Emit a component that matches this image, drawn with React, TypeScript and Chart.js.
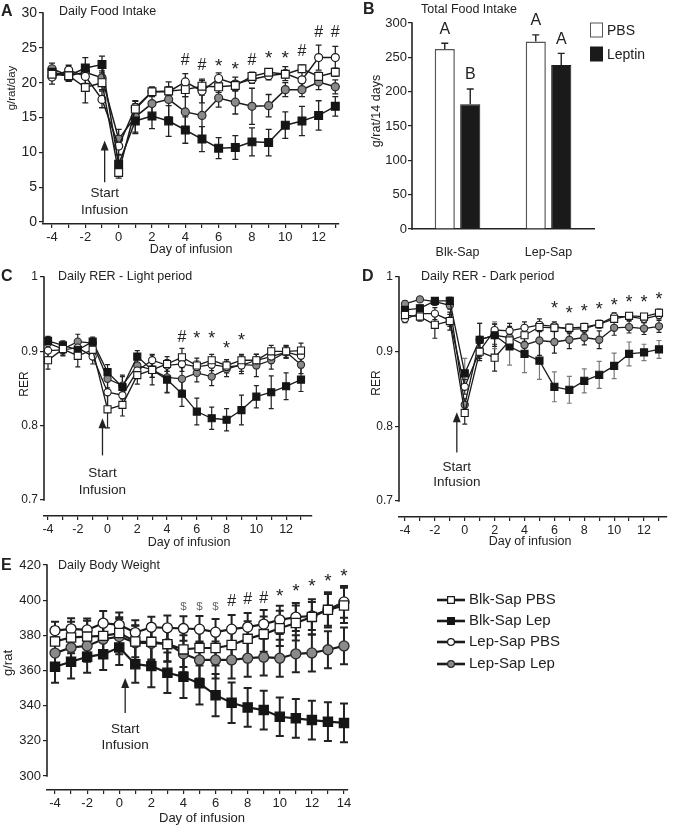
import React, { useEffect, useRef } from 'react';
import { Chart, registerables } from 'chart.js';

Chart.register(...registerables);

const FONT = '"Liberation Sans", Arial, Helvetica, sans-serif';
const INK = '#222222';

const SERIES = ['Blk-Sap PBS', 'Blk-Sap Lep', 'Lep-Sap PBS', 'Lep-Sap Lep'];

// ---------- Panel A: Daily Food Intake (g/rat/day) ----------
const A_DAYS = [-4, -3, -2, -1, 0, 1, 2, 3, 4, 5, 6, 7, 8, 9, 10, 11, 12, 13];
const A_BLK_PBS = [21.2, 21.0, 19.3, 20.0, 7.1, 16.2, 18.7, 18.8, 19.0, 19.5, 19.4, 19.6, 20.9, 21.5, 21.2, 22.0, 20.9, 21.5];
const A_BLK_LEP = [21.5, 21.0, 22.1, 22.6, 8.3, 14.5, 15.2, 14.5, 13.2, 11.9, 10.6, 10.7, 11.5, 11.4, 13.9, 14.5, 15.3, 16.6];
const A_LEP_PBS = [20.8, 21.8, 20.9, 17.6, 10.9, 16.4, 18.7, 18.7, 20.1, 18.8, 20.6, 19.8, 20.5, 21.0, 21.3, 20.4, 23.6, 23.6];
const A_LEP_LEP = [22.0, 21.0, 21.5, 20.7, 11.9, 15.1, 17.0, 17.6, 15.8, 15.3, 17.8, 17.2, 16.6, 16.7, 19.0, 19.0, 20.1, 19.4];
const A_ERR_BLK_PBS = [0.8, 0.8, 2.2, 1.0, 0.8, 0.8, 0.6, 0.6, 1.0, 0.8, 0.8, 0.6, 0.6, 0.5, 0.5, 0.5, 0.6, 0.6];
const A_ERR_BLK_LEP = [0.8, 0.8, 1.5, 1.2, 1.3, 1.8, 1.8, 2.2, 1.9, 1.8, 1.5, 1.7, 2.0, 1.9, 1.9, 2.1, 2.1, 1.4];
const A_ERR_LEP_PBS = [1.0, 0.7, 1.0, 1.2, 1.2, 1.0, 0.7, 0.7, 1.2, 1.7, 0.8, 1.0, 0.6, 0.6, 1.0, 1.5, 1.8, 1.6];
const A_ERR_LEP_LEP = [0.8, 0.7, 1.0, 1.0, 1.4, 2.2, 2.2, 2.5, 2.2, 2.9, 1.3, 1.7, 2.6, 1.6, 1.0, 1.0, 1.1, 1.0];
const A_Y_TICKS = [0, 5, 10, 15, 20, 25, 30];
const A_X_TICKS = [-4, -3, -2, -1, 0, 1, 2, 3, 4, 5, 6, 7, 8, 9, 10, 11, 12, 13];
const A_SIG_DAYS = [4, 5, 6, 7, 8, 9, 10, 11, 12, 13];
const A_SIG_MARKS = ['#', '#', '*', '*', '#', '*', '*', '#', '#', '#'];
const A_SIG_LEVELS = [23.1, 22.4, 22.9, 22.4, 23.1, 24.1, 24.1, 24.5, 27.2, 27.2];

// ---------- Panel B: Total Food Intake (g/rat/14 days) ----------
const B_GROUPS = ['Blk-Sap', 'Lep-Sap'];
const B_PBS = [262, 273];
const B_LEPTIN = [181.5, 238.8];
const B_PBS_ERR = [8.5, 9.7];
const B_LEPTIN_ERR = [22.4, 17];
const B_PBS_LETTERS = ['A', 'A'];
const B_LEPTIN_LETTERS = ['B', 'A'];

// ---------- Panel C: Daily RER - Light period ----------
const C_DAYS = [-4, -3, -2, -1, 0, 1, 2, 3, 4, 5, 6, 7, 8, 9, 10, 11, 12, 13];
const C_BLK_PBS = [0.888, 0.903, 0.894, 0.902, 0.822, 0.828, 0.868, 0.875, 0.883, 0.892, 0.881, 0.888, 0.881, 0.888, 0.888, 0.900, 0.900, 0.901];
const C_BLK_LEP = [0.914, 0.908, 0.902, 0.913, 0.872, 0.852, 0.893, 0.875, 0.862, 0.843, 0.819, 0.810, 0.808, 0.821, 0.839, 0.845, 0.853, 0.862];
const C_LEP_PBS = [0.901, 0.902, 0.905, 0.893, 0.845, 0.841, 0.874, 0.888, 0.881, 0.883, 0.879, 0.882, 0.879, 0.881, 0.888, 0.893, 0.899, 0.894];
const C_LEP_LEP = [0.911, 0.903, 0.913, 0.911, 0.863, 0.854, 0.881, 0.875, 0.865, 0.863, 0.871, 0.866, 0.876, 0.882, 0.881, 0.888, 0.899, 0.882];
const C_ERR_BLK_PBS = [0.012, 0.008, 0.015, 0.010, 0.025, 0.015, 0.012, 0.010, 0.010, 0.012, 0.010, 0.008, 0.008, 0.008, 0.008, 0.008, 0.008, 0.010];
const C_ERR_BLK_LEP = [0.006, 0.006, 0.008, 0.006, 0.010, 0.016, 0.008, 0.010, 0.018, 0.017, 0.018, 0.015, 0.015, 0.020, 0.015, 0.022, 0.018, 0.016];
const C_ERR_LEP_PBS = [0.008, 0.008, 0.008, 0.010, 0.020, 0.015, 0.010, 0.008, 0.008, 0.010, 0.008, 0.008, 0.008, 0.008, 0.008, 0.008, 0.008, 0.008];
const C_ERR_LEP_LEP = [0.006, 0.006, 0.010, 0.006, 0.012, 0.012, 0.012, 0.020, 0.020, 0.015, 0.012, 0.012, 0.010, 0.012, 0.015, 0.012, 0.008, 0.012];
const RER_Y_TICKS = [0.7, 0.8, 0.9, 1.0];
const C_X_TICKS = [-4, -3, -2, -1, 0, 1, 2, 3, 4, 5, 6, 7, 8, 9, 10, 11, 12, 13];
const C_SIG_DAYS = [5, 6, 7, 8, 9];
const C_SIG_MARKS = ['#', '*', '*', '*', '*'];
const C_SIG_LEVELS = [0.919, 0.9215, 0.9215, 0.908, 0.919];

// ---------- Panel D: Daily RER - Dark period ----------
const D_DAYS = [-4, -3, -2, -1, 0, 1, 2, 3, 4, 5, 6, 7, 8, 9, 10, 11, 12, 13];
const D_BLK_PBS = [0.949, 0.947, 0.936, 0.941, 0.818, 0.900, 0.892, 0.915, 0.922, 0.933, 0.932, 0.932, 0.933, 0.937, 0.944, 0.948, 0.947, 0.952];
const D_BLK_LEP = [0.956, 0.958, 0.968, 0.968, 0.871, 0.916, 0.922, 0.907, 0.897, 0.888, 0.853, 0.849, 0.861, 0.869, 0.881, 0.897, 0.899, 0.903];
const D_LEP_PBS = [0.944, 0.951, 0.951, 0.942, 0.853, 0.901, 0.929, 0.928, 0.932, 0.936, 0.934, 0.930, 0.931, 0.937, 0.947, 0.947, 0.944, 0.949];
const D_LEP_LEP = [0.964, 0.970, 0.967, 0.962, 0.829, 0.916, 0.922, 0.919, 0.909, 0.915, 0.913, 0.916, 0.919, 0.916, 0.932, 0.933, 0.931, 0.934];
const D_ERR_BLK_PBS = [0.005, 0.006, 0.018, 0.012, 0.015, 0.012, 0.018, 0.010, 0.008, 0.006, 0.005, 0.005, 0.005, 0.005, 0.004, 0.004, 0.004, 0.005];
const D_ERR_BLK_LEP = [0.006, 0.005, 0.004, 0.005, 0.020, 0.022, 0.018, 0.025, 0.025, 0.025, 0.020, 0.018, 0.016, 0.018, 0.017, 0.016, 0.011, 0.012];
const D_ERR_LEP_PBS = [0.005, 0.006, 0.008, 0.008, 0.010, 0.010, 0.008, 0.010, 0.008, 0.008, 0.006, 0.006, 0.006, 0.005, 0.005, 0.005, 0.005, 0.005];
const D_ERR_LEP_LEP = [0.004, 0.003, 0.005, 0.005, 0.008, 0.022, 0.015, 0.015, 0.015, 0.020, 0.015, 0.012, 0.010, 0.012, 0.010, 0.008, 0.008, 0.008];
const D_X_TICKS = [-4, -3, -2, -1, 0, 1, 2, 3, 4, 5, 6, 7, 8, 9, 10, 11, 12, 13];
const D_SIG_DAYS = [6, 7, 8, 9, 10, 11, 12, 13];
const D_SIG_MARKS = ['*', '*', '*', '*', '*', '*', '*', '*'];
const D_SIG_LEVELS = [0.9627, 0.956, 0.9583, 0.9613, 0.967, 0.970, 0.970, 0.9747];

// ---------- Panel E: Daily Body Weight (g/rat) ----------
const E_DAYS = [-4, -3, -2, -1, 0, 1, 2, 3, 4, 5, 6, 7, 8, 9, 10, 11, 12, 13, 14];
const E_BLK_PBS = [376.5, 378.8, 379.3, 379.7, 381.3, 376.5, 376.3, 375.0, 372.0, 372.8, 372.8, 374.5, 378.0, 380.7, 384.0, 387.0, 390.5, 394.5, 397.0];
const E_BLK_LEP = [362.1, 365.0, 367.8, 369.3, 373.1, 363.6, 362.5, 358.7, 356.4, 352.7, 346.0, 341.7, 339.0, 337.5, 333.7, 332.8, 331.8, 330.9, 330.2];
const E_LEP_PBS = [382.7, 383.7, 383.1, 386.9, 386.0, 381.6, 384.6, 384.3, 383.9, 383.5, 381.8, 383.5, 384.7, 386.4, 388.8, 390.4, 391.0, 394.5, 399.0];
const E_LEP_LEP = [369.9, 373.1, 374.0, 377.8, 379.3, 375.8, 375.5, 375.3, 369.5, 366.0, 366.0, 366.0, 367.0, 367.6, 367.0, 369.5, 370.0, 371.8, 374.0];
const E_ERR_BLK_PBS = [8, 9, 9, 9, 9, 9, 10, 10, 10, 10, 10, 10, 10, 10, 10, 10, 10, 10, 10];
const E_ERR_BLK_LEP = [9, 9.5, 9, 9, 10, 10.5, 12, 11.5, 12, 12, 12, 11.5, 11, 11, 11, 11, 11, 11, 11];
const E_ERR_LEP_PBS = [5, 6, 6.5, 7, 7, 7, 6, 7, 7, 7.5, 7.5, 8, 8, 8, 8, 8, 8, 9, 9];
const E_ERR_LEP_LEP = [9, 9, 9, 10, 10, 10, 10, 10, 10.5, 10.5, 10.5, 10.5, 10.5, 10.5, 10.5, 10.5, 10.5, 10.5, 10.5];
const E_Y_TICKS = [300, 320, 340, 360, 380, 400, 420];
const E_X_TICKS = [-4, -3, -2, -1, 0, 1, 2, 3, 4, 5, 6, 7, 8, 9, 10, 11, 12, 13, 14];
const E_SIG_DAYS = [4, 5, 6, 7, 8, 9, 10, 11, 12, 13, 14];
const E_SIG_MARKS = ['$', '$', '$', '#', '#', '#', '*', '*', '*', '*', '*'];
const E_SIG_LEVELS = [396.2, 396.2, 396.2, 399.0, 400.1, 400.7, 404.1, 406.9, 409.8, 412.6, 415.5];

// ---------- styling ----------
const STYLES = [
  { kind: 'rect', fill: '#ffffff', stroke: '#1b1b1b' },
  { kind: 'rect', fill: '#151515', stroke: '#151515' },
  { kind: 'circle', fill: '#ffffff', stroke: '#1b1b1b' },
  { kind: 'circle', fill: '#8a8a8a', stroke: '#2a2a2a' },
];

type Txt = { t: string; x: number; y: number; size: number; bold?: boolean; align?: CanvasTextAlign; rot?: boolean; color?: string };

function drawTexts(ctx: CanvasRenderingContext2D, texts: Txt[]) {
  texts.forEach((tx) => {
    ctx.save();
    ctx.font = `${tx.bold ? 'bold ' : ''}${tx.size}px ${FONT}`;
    ctx.fillStyle = tx.color || INK;
    ctx.textAlign = tx.align || 'left';
    ctx.textBaseline = 'middle';
    ctx.translate(tx.x, tx.y);
    if (tx.rot) ctx.rotate(-Math.PI / 2);
    ctx.fillText(tx.t, 0, 0);
    ctx.restore();
  });
}

function drawMarker(ctx: CanvasRenderingContext2D, kind: string, x: number, y: number, r: number, fill: string, stroke: string, lw: number) {
  ctx.save();
  ctx.fillStyle = fill;
  ctx.strokeStyle = stroke;
  ctx.lineWidth = lw;
  ctx.beginPath();
  if (kind === 'rect') {
    const s = r * Math.SQRT1_2;
    ctx.rect(x - s, y - s, 2 * s, 2 * s);
  } else {
    ctx.arc(x, y, r, 0, Math.PI * 2);
  }
  ctx.fill();
  ctx.stroke();
  ctx.restore();
}

function drawErrorBars(chart: any, upOnly: boolean, capW: number, lw: number) {
  const ctx = chart.ctx;
  const ys = chart.scales.y;
  chart.data.datasets.forEach((ds: any, i: number) => {
    if (!ds.errors) return;
    const meta = chart.getDatasetMeta(i);
    ctx.save();
    ctx.strokeStyle = ds.errorColor || INK;
    ctx.lineWidth = lw;
    meta.data.forEach((el: any, j: number) => {
      const raw = ds.data[j];
      const v = typeof raw === 'number' ? raw : raw.y;
      const e = ds.errors[j];
      if (e == null) return;
      const x = el.x;
      const yt = ys.getPixelForValue(v + e);
      const yb = upOnly ? ys.getPixelForValue(v) : ys.getPixelForValue(v - e);
      ctx.beginPath();
      ctx.moveTo(x, yt);
      ctx.lineTo(x, yb);
      ctx.moveTo(x - capW / 2, yt);
      ctx.lineTo(x + capW / 2, yt);
      if (!upOnly) {
        ctx.moveTo(x - capW / 2, yb);
        ctx.lineTo(x + capW / 2, yb);
      }
      ctx.stroke();
    });
    ctx.restore();
  });
}

function drawYLine(chart: any) {
  const ys = chart.scales.y;
  const t = ys.ticks;
  const ctx = chart.ctx;
  const x = chart.chartArea.left;
  ctx.save();
  ctx.strokeStyle = INK;
  ctx.lineWidth = 1.6;
  ctx.beginPath();
  ctx.moveTo(x, ys.getPixelForValue(t[t.length - 1].value) - 0.7);
  ctx.lineTo(x, ys.getPixelForValue(t[0].value) + 0.7);
  ctx.stroke();
  ctx.restore();
}

function drawSig(ctx: CanvasRenderingContext2D, xs: any, ys: any, sig: { days: number[]; marks: string[]; levels: number[] }, starSize: number) {
  sig.days.forEach((d, i) => {
    const m = sig.marks[i];
    const x = xs.getPixelForValue(d);
    let y = ys.getPixelForValue(sig.levels[i]);
    let size = 16;
    let color = INK;
    if (m === '*') {
      size = starSize;
      y += starSize * 0.22;
    }
    if (m === '$') {
      size = 11.5;
      color = '#666666';
    }
    ctx.save();
    ctx.font = `${size}px ${FONT}`;
    ctx.fillStyle = color;
    ctx.textAlign = 'center';
    ctx.textBaseline = 'middle';
    ctx.fillText(m, x, y);
    ctx.restore();
  });
}

function drawArrow(ctx: CanvasRenderingContext2D, xs: any, ys: any, a: { day: number; top: number; bottom: number; start: number; inf: number }) {
  const x = xs.getPixelForValue(a.day);
  const yt = ys.getPixelForValue(a.top);
  const yb = ys.getPixelForValue(a.bottom);
  ctx.save();
  ctx.strokeStyle = INK;
  ctx.fillStyle = INK;
  ctx.lineWidth = 1.3;
  ctx.beginPath();
  ctx.moveTo(x, yb);
  ctx.lineTo(x, yt + 8);
  ctx.stroke();
  ctx.beginPath();
  ctx.moveTo(x, yt);
  ctx.lineTo(x - 4, yt + 10);
  ctx.lineTo(x + 4, yt + 10);
  ctx.closePath();
  ctx.fill();
  ctx.font = `13.5px ${FONT}`;
  ctx.textAlign = 'center';
  ctx.textBaseline = 'middle';
  ctx.fillText('Start', x, ys.getPixelForValue(a.start));
  ctx.fillText('Infusion', x, ys.getPixelForValue(a.inf));
  ctx.restore();
}

interface LinePanel {
  days: number[];
  series: number[][];
  errors: number[][];
  errColors?: string[];
  xMin: number; xMax: number; xTicks: number[]; xFont: number; xHeight: number;
  yMin: number; yMax: number; yTicks: number[]; yFont: number; yWidth: number;
  padTop: number; padRight: number;
  sqR: number; cirR: number; lineW: number; errW: number; capW: number; markW: number; starSize: number;
  sig: { days: number[]; marks: string[]; levels: number[] };
  arrow: { day: number; top: number; bottom: number; start: number; inf: number };
  texts: Txt[];
  legend?: { x0: number; x1: number; xt: number; rows: number[]; size: number; sqR: number; cirR: number };
}

function lineConfig(p: LinePanel): any {
  const datasets = p.series.map((vals, i) => {
    const st = STYLES[i];
    return {
      label: SERIES[i],
      data: p.days.map((d, j) => ({ x: d, y: vals[j] })),
      errors: p.errors[i],
      errorColor: p.errColors ? p.errColors[i] : INK,
      borderColor: '#1b1b1b',
      borderWidth: p.lineW,
      backgroundColor: st.fill,
      pointStyle: st.kind,
      pointRadius: st.kind === 'rect' ? p.sqR : p.cirR,
      pointHoverRadius: st.kind === 'rect' ? p.sqR : p.cirR,
      pointBackgroundColor: st.fill,
      pointBorderColor: st.stroke,
      pointBorderWidth: p.markW,
      tension: 0,
      fill: false,
      clip: false,
    };
  });
  const plugin = {
    id: 'decorLine',
    beforeDatasetsDraw(chart: any) {
      drawErrorBars(chart, false, p.capW, p.errW);
    },
    afterDatasetsDraw(chart: any) {
      const ctx = chart.ctx;
      const xs = chart.scales.x;
      const ys = chart.scales.y;
      drawYLine(chart);
      drawSig(ctx, xs, ys, p.sig, p.starSize);
      drawArrow(ctx, xs, ys, p.arrow);
      drawTexts(ctx, p.texts);
      if (p.legend) {
        const lg = p.legend;
        chart.data.datasets.forEach((ds: any, i: number) => {
          const y = lg.rows[i];
          const st = STYLES[i];
          ctx.save();
          ctx.strokeStyle = '#1b1b1b';
          ctx.lineWidth = 2.6;
          ctx.beginPath();
          ctx.moveTo(lg.x0, y);
          ctx.lineTo(lg.x1, y);
          ctx.stroke();
          ctx.restore();
          drawMarker(ctx, st.kind, (lg.x0 + lg.x1) / 2, y, st.kind === 'rect' ? lg.sqR : lg.cirR, st.fill, st.stroke, 1.2);
          drawTexts(ctx, [{ t: ds.label, x: lg.xt, y, size: lg.size }]);
        });
      }
    },
  };
  return {
    type: 'line',
    data: { datasets },
    options: {
      responsive: false,
      maintainAspectRatio: false,
      animation: false,
      devicePixelRatio: 1,
      events: [],
      layout: { padding: { left: 0, top: p.padTop, right: p.padRight, bottom: 0 } },
      plugins: { legend: { display: false }, tooltip: { enabled: false }, title: { display: false } },
      scales: {
        x: {
          type: 'linear',
          min: p.xMin,
          max: p.xMax,
          afterBuildTicks: (s: any) => {
            s.ticks = p.xTicks.map((v) => ({ value: v }));
          },
          afterFit: (s: any) => {
            s.height = p.xHeight;
          },
          ticks: {
            autoSkip: false,
            maxRotation: 0,
            padding: 2,
            color: INK,
            font: { family: FONT, size: p.xFont },
            callback: (v: any) => (Math.round(Number(v)) % 2 === 0 ? String(v) : ''),
          },
          grid: { display: true, drawOnChartArea: false, drawTicks: true, tickLength: 4, color: INK, lineWidth: 1.2 },
          border: { display: true, color: INK, width: 1.6 },
        },
        y: {
          type: 'linear',
          min: p.yMin,
          max: p.yMax,
          afterBuildTicks: (s: any) => {
            s.ticks = p.yTicks.map((v) => ({ value: v }));
          },
          afterFit: (s: any) => {
            s.width = p.yWidth;
          },
          ticks: {
            padding: 2,
            color: INK,
            font: { family: FONT, size: p.yFont },
            callback: (v: any) => String(Number(Number(v).toFixed(2))),
          },
          grid: { display: true, drawOnChartArea: false, drawTicks: true, tickLength: 4, color: INK, lineWidth: 1.2 },
          border: { display: false },
        },
      },
    },
    plugins: [plugin],
  };
}

const makeA = () =>
  lineConfig({
    days: A_DAYS,
    series: [A_BLK_PBS, A_BLK_LEP, A_LEP_PBS, A_LEP_LEP],
    errors: [A_ERR_BLK_PBS, A_ERR_BLK_LEP, A_ERR_LEP_PBS, A_ERR_LEP_LEP],
    xMin: -4.54, xMax: 13.18, xTicks: A_X_TICKS, xFont: 13, xHeight: 38,
    yMin: -0.29, yMax: 30, yTicks: A_Y_TICKS, yFont: 14, yWidth: 43,
    padTop: 13, padRight: 5,
    sqR: 5.5, cirR: 4, lineW: 1.5, errW: 1.3, capW: 6, markW: 1.2, starSize: 19,
    sig: { days: A_SIG_DAYS, marks: A_SIG_MARKS, levels: A_SIG_LEVELS },
    arrow: { day: -0.84, top: 11.7, bottom: 5.7, start: 4.1, inf: 1.7 },
    texts: [
      { t: 'A', x: 1, y: 12, size: 16, bold: true },
      { t: 'Daily Food Intake', x: 59, y: 12, size: 12.5 },
      { t: 'g/rat/day', x: 12, y: 88, size: 11.5, rot: true, align: 'center' },
      { t: 'Day of infusion', x: 191, y: 250, size: 12.5, align: 'center' },
    ],
  });

const makeC = () =>
  lineConfig({
    days: C_DAYS,
    series: [C_BLK_PBS, C_BLK_LEP, C_LEP_PBS, C_LEP_LEP],
    errors: [C_ERR_BLK_PBS, C_ERR_BLK_LEP, C_ERR_LEP_PBS, C_ERR_LEP_LEP],
    xMin: -4.27, xMax: 13.74, xTicks: C_X_TICKS, xFont: 12.5, xHeight: 38,
    yMin: 0.6785, yMax: 1.0, yTicks: RER_Y_TICKS, yFont: 12, yWidth: 44,
    padTop: 15, padRight: 28,
    sqR: 5, cirR: 3.6, lineW: 1.3, errW: 1.2, capW: 5, markW: 1.1, starSize: 18,
    sig: { days: C_SIG_DAYS, marks: C_SIG_MARKS, levels: C_SIG_LEVELS },
    arrow: { day: -0.34, top: 0.81, bottom: 0.76, start: 0.7362, inf: 0.713 },
    texts: [
      { t: 'C', x: 1, y: 15, size: 16, bold: true },
      { t: 'Daily RER - Light period', x: 58, y: 15, size: 12.5 },
      { t: 'RER', x: 25, y: 122, size: 12, rot: true, align: 'center' },
      { t: 'Day of infusion', x: 189, y: 281, size: 12.5, align: 'center' },
    ],
  });

const makeD = () =>
  lineConfig({
    days: D_DAYS,
    series: [D_BLK_PBS, D_BLK_LEP, D_LEP_PBS, D_LEP_LEP],
    errors: [D_ERR_BLK_PBS, D_ERR_BLK_LEP, D_ERR_LEP_PBS, D_ERR_LEP_LEP],
    errColors: [INK, '#7a7a7a', INK, INK],
    xMin: -4.4, xMax: 13.53, xTicks: D_X_TICKS, xFont: 12.5, xHeight: 37,
    yMin: 0.6787, yMax: 1.0, yTicks: RER_Y_TICKS, yFont: 12, yWidth: 59,
    padTop: 15, padRight: 3,
    sqR: 5, cirR: 3.6, lineW: 1.3, errW: 1.2, capW: 5, markW: 1.1, starSize: 18,
    sig: { days: D_SIG_DAYS, marks: D_SIG_MARKS, levels: D_SIG_LEVELS },
    arrow: { day: -0.53, top: 0.819, bottom: 0.765, start: 0.7453, inf: 0.7253 },
    texts: [
      { t: 'D', x: 22, y: 15, size: 16, bold: true },
      { t: 'Daily RER - Dark period', x: 81, y: 15, size: 12.5 },
      { t: 'RER', x: 37, y: 121, size: 12, rot: true, align: 'center' },
      { t: 'Day of infusion', x: 190, y: 280, size: 12.5, align: 'center' },
    ],
  });

const makeE = () =>
  lineConfig({
    days: E_DAYS,
    series: [E_BLK_PBS, E_BLK_LEP, E_LEP_PBS, E_LEP_LEP],
    errors: [E_ERR_BLK_PBS, E_ERR_BLK_LEP, E_ERR_LEP_PBS, E_ERR_LEP_LEP],
    xMin: -4.5, xMax: 14.25, xTicks: E_X_TICKS, xFont: 13, xHeight: 37,
    yMin: 292.06, yMax: 420, yTicks: E_Y_TICKS, yFont: 13, yWidth: 47,
    padTop: 35, padRight: 325,
    sqR: 6.5, cirR: 5, lineW: 2.2, errW: 2, capW: 8, markW: 1.3, starSize: 19,
    sig: { days: E_SIG_DAYS, marks: E_SIG_MARKS, levels: E_SIG_LEVELS },
    arrow: { day: 0.37, top: 355.7, bottom: 335.9, start: 326.8, inf: 317.7 },
    texts: [
      { t: 'E', x: 1, y: 36, size: 16, bold: true },
      { t: 'Daily Body Weight', x: 58, y: 36, size: 12.5 },
      { t: 'g/rat', x: 8, y: 133, size: 13, rot: true, align: 'center' },
      { t: 'Day of infusion', x: 202, y: 288, size: 13, align: 'center' },
    ],
    legend: { x0: 437, x1: 465, xt: 469, rows: [70, 91, 112, 134], size: 15, sqR: 4.8, cirR: 3.4 },
  });

const makeB = (): any => {
  const plugin = {
    id: 'decorBar',
    beforeDatasetsDraw(chart: any) {
      drawErrorBars(chart, true, 7, 1.4);
    },
    afterDatasetsDraw(chart: any) {
      const ctx = chart.ctx;
      const ys = chart.scales.y;
      drawYLine(chart);
      chart.data.datasets.forEach((ds: any, i: number) => {
        const meta = chart.getDatasetMeta(i);
        meta.data.forEach((el: any, j: number) => {
          const y = ys.getPixelForValue(ds.data[j] + ds.errors[j]) - 14;
          drawTexts(ctx, [{ t: ds.letters[j], x: el.x, y, size: 16, align: 'center' }]);
        });
        // legend box
        const by = [30, 54][i];
        ctx.save();
        ctx.fillStyle = ds.backgroundColor;
        ctx.strokeStyle = ds.borderColor;
        ctx.lineWidth = 1;
        ctx.fillRect(250.5, by - 7, 12, 14);
        ctx.strokeRect(250.5, by - 7, 12, 14);
        ctx.restore();
        drawTexts(ctx, [{ t: ds.label, x: 267, y: by + 1, size: 14 }]);
      });
      drawTexts(ctx, [
        { t: 'B', x: 23, y: 10, size: 16, bold: true },
        { t: 'Total Food Intake', x: 81, y: 10, size: 12.5 },
        { t: 'g/rat/14 days', x: 37, y: 111, size: 12.5, rot: true, align: 'center' },
      ]);
    },
  };
  return {
    type: 'bar',
    data: {
      labels: B_GROUPS,
      datasets: [
        { label: 'PBS', data: B_PBS, errors: B_PBS_ERR, letters: B_PBS_LETTERS, errorColor: INK, backgroundColor: '#ffffff', borderColor: '#555555', borderWidth: 1.5 },
        { label: 'Leptin', data: B_LEPTIN, errors: B_LEPTIN_ERR, letters: B_LEPTIN_LETTERS, errorColor: INK, backgroundColor: '#1a1a1a', borderColor: '#1a1a1a', borderWidth: 1 },
      ],
    },
    options: {
      responsive: false,
      maintainAspectRatio: false,
      animation: false,
      devicePixelRatio: 1,
      events: [],
      layout: { padding: { left: 0, top: 23, right: 79, bottom: 0 } },
      plugins: { legend: { display: false }, tooltip: { enabled: false } },
      datasets: { bar: { categoryPercentage: 0.56, barPercentage: 0.79 } },
      scales: {
        x: {
          afterFit: (s: any) => {
            s.height = 33;
          },
          ticks: { padding: 8, color: INK, font: { family: FONT, size: 12.5 } },
          grid: { display: false },
          border: { display: true, color: INK, width: 1.6 },
        },
        y: {
          min: 0,
          max: 300,
          afterFit: (s: any) => {
            s.width = 72;
          },
          ticks: { stepSize: 50, padding: 1, color: INK, font: { family: FONT, size: 13 } },
          grid: { display: true, drawOnChartArea: false, drawTicks: true, tickLength: 4, color: INK, lineWidth: 1.2 },
          border: { display: false },
        },
      },
    },
    plugins: [plugin],
  };
};

function Panel({ make, left, top, width, height }: { make: () => any; left: number; top: number; width: number; height: number }) {
  const ref = useRef<HTMLCanvasElement>(null);
  useEffect(() => {
    const chart = new Chart(ref.current as HTMLCanvasElement, make());
    return () => chart.destroy();
  }, []);
  return <canvas ref={ref} width={width} height={height} style={{ position: 'absolute', left, top, width, height }} />;
}

export default function App() {
  return (
    <div style={{ position: 'absolute', left: 0, top: 0, width: 673, height: 827, background: '#ffffff', overflow: 'hidden' }}>
      <Panel make={makeA} left={0} top={0} width={345} height={262} />
      <Panel make={makeB} left={340} top={0} width={333} height={262} />
      <Panel make={makeC} left={0} top={262} width={340} height={292} />
      <Panel make={makeD} left={340} top={262} width={333} height={292} />
      <Panel make={makeE} left={0} top={530} width={673} height={297} />
    </div>
  );
}
